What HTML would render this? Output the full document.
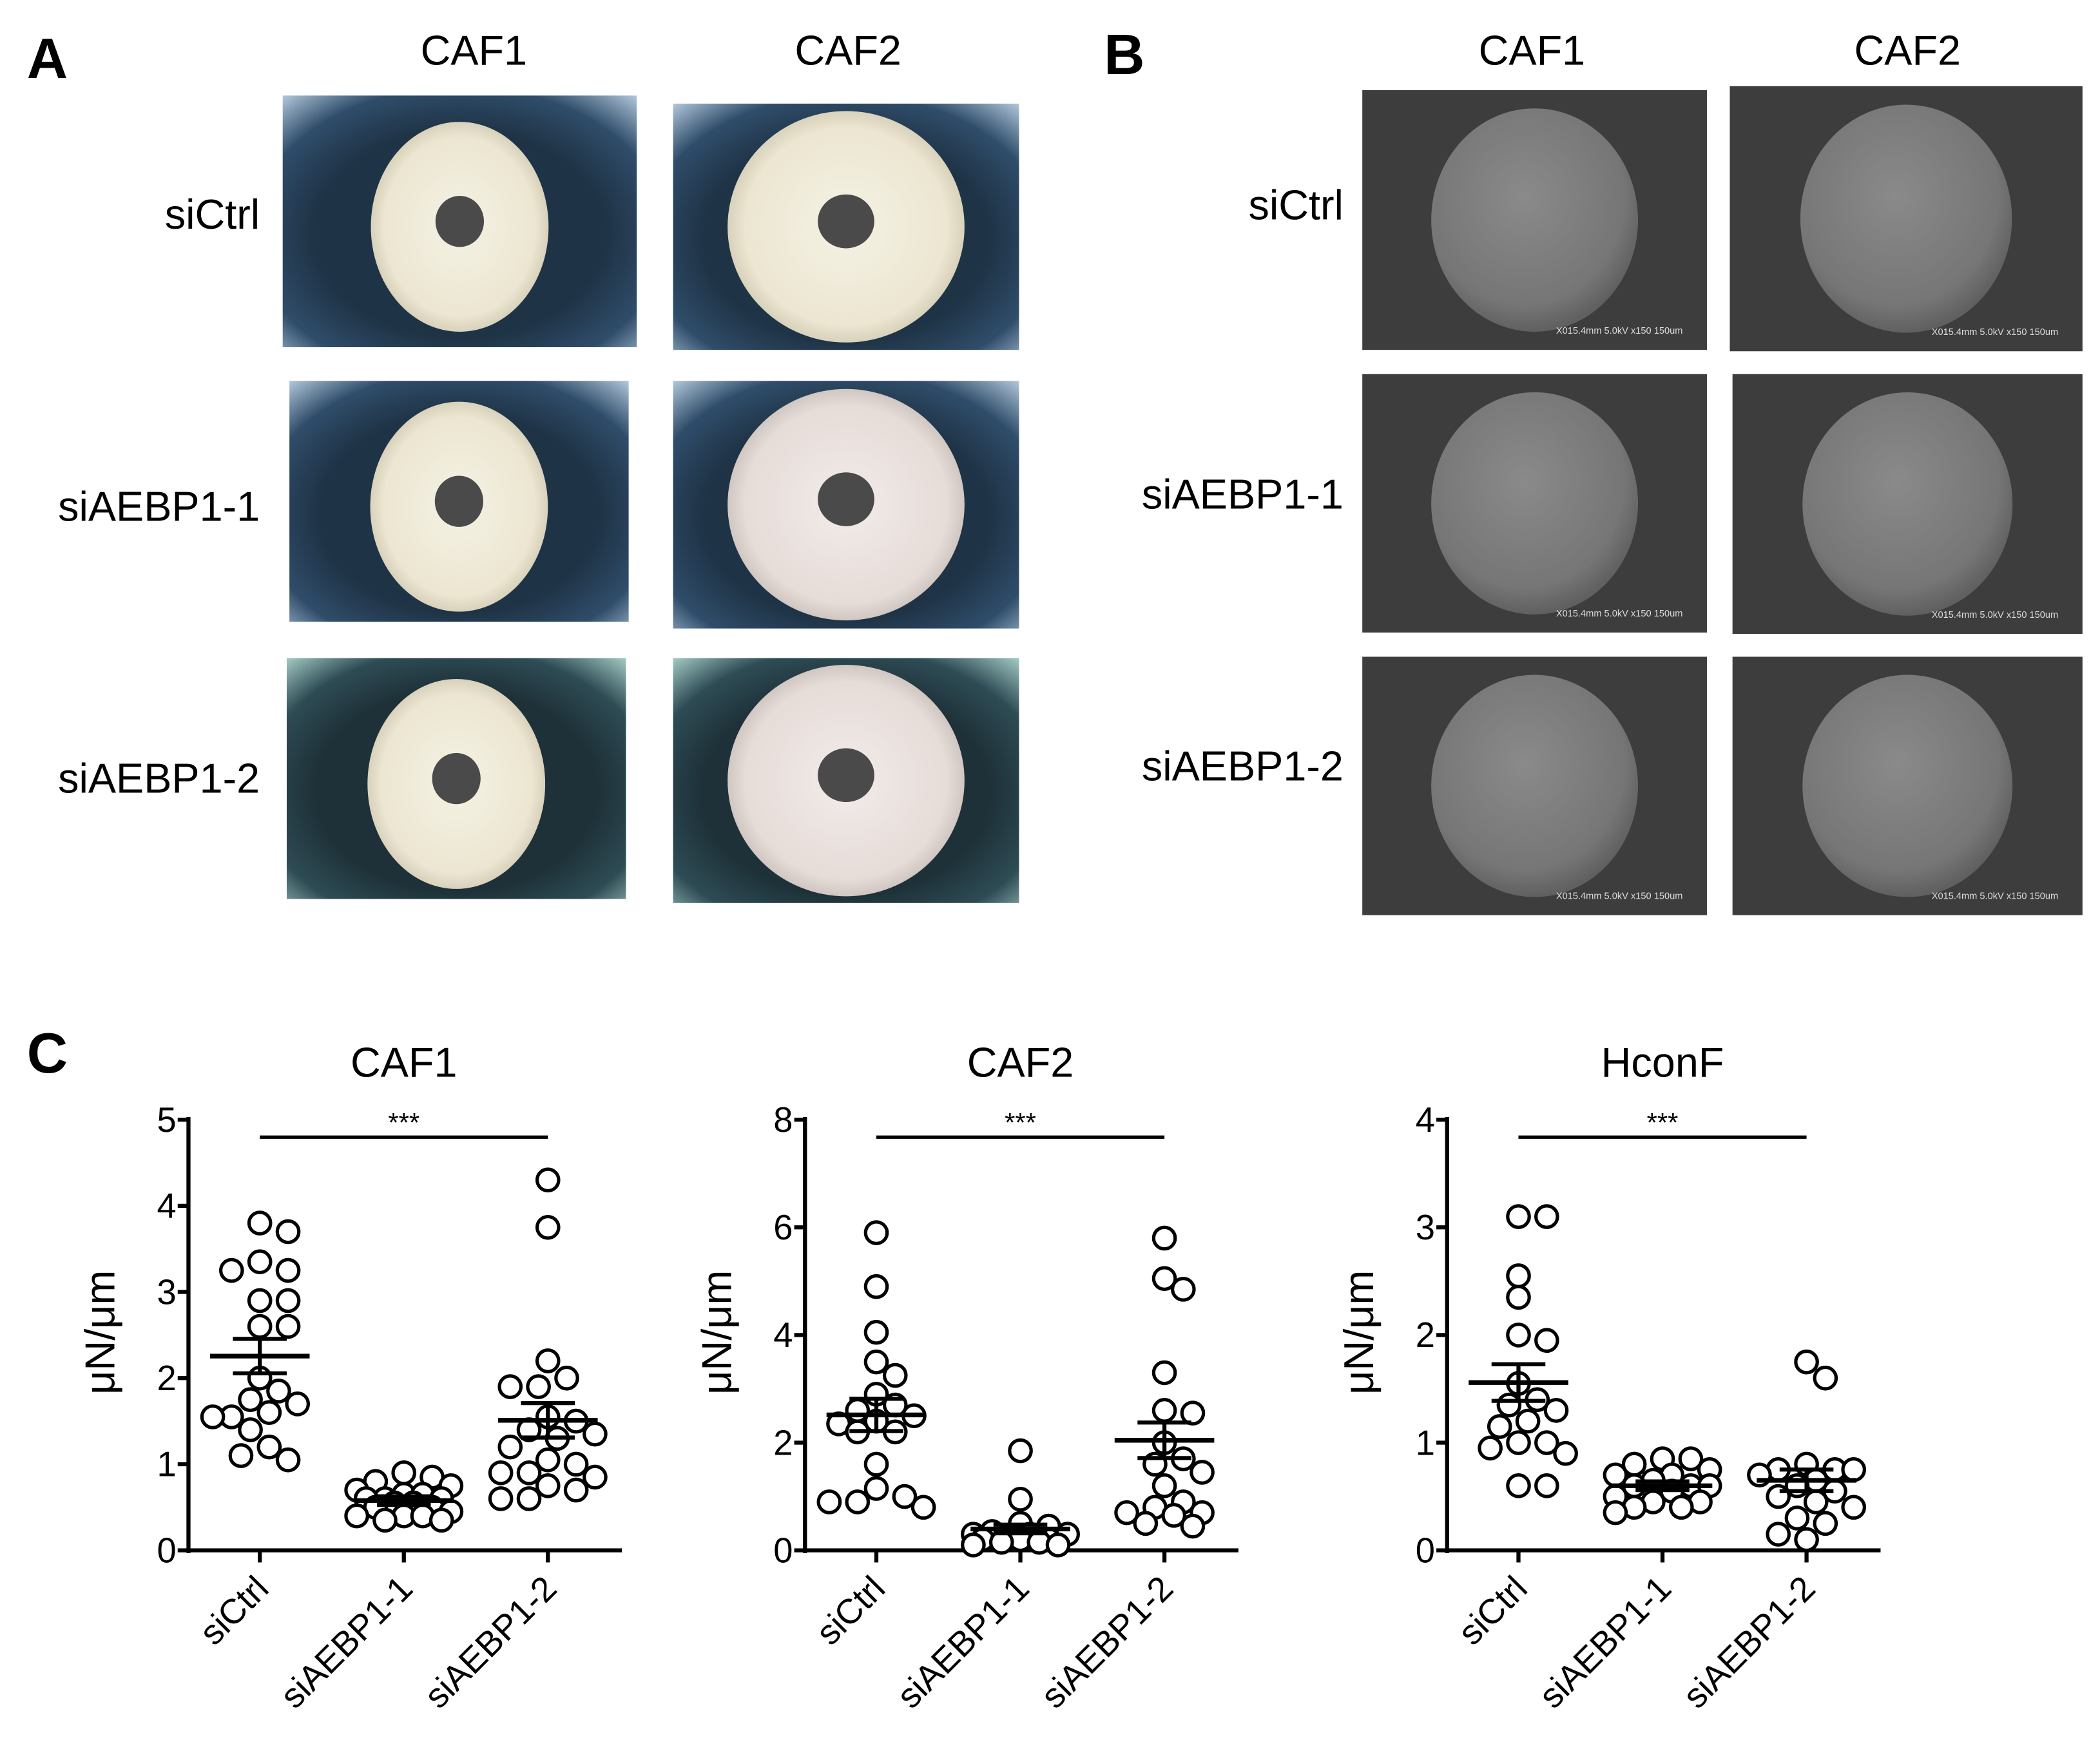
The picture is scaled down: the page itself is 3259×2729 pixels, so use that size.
<!DOCTYPE html>
<html><head><meta charset="utf-8"><style>
html,body{margin:0;padding:0;background:#fff}
svg{display:block}
text{font-family:"Liberation Sans",Arial,sans-serif}
</style></head><body>
<svg id="fig" width="3259" height="2729" viewBox="0 0 1560 1306.3" xmlns="http://www.w3.org/2000/svg">
<defs>
<radialGradient id="wellA" cx="50%" cy="55%" r="75%">
<stop offset="0.55" stop-color="#1f3346"/><stop offset="0.78" stop-color="#2f4d6a"/><stop offset="1" stop-color="#b8cde0"/></radialGradient>
<radialGradient id="wellG" cx="50%" cy="55%" r="75%">
<stop offset="0.55" stop-color="#1e3038"/><stop offset="0.78" stop-color="#2e4c55"/><stop offset="1" stop-color="#a8d0c8"/></radialGradient>
<radialGradient id="light" cx="50%" cy="50%" r="50%">
<stop offset="0" stop-color="#f5f2e4"/><stop offset="0.85" stop-color="#ece6d2"/><stop offset="1" stop-color="#d8d2bc"/></radialGradient>
<radialGradient id="lightP" cx="50%" cy="50%" r="50%">
<stop offset="0" stop-color="#f2ecea"/><stop offset="0.85" stop-color="#e6dcd8"/><stop offset="1" stop-color="#d0c6c2"/></radialGradient>
<radialGradient id="sem" cx="45%" cy="40%" r="60%">
<stop offset="0" stop-color="#8a8a8a"/><stop offset="0.8" stop-color="#767676"/><stop offset="1" stop-color="#606060"/></radialGradient>
</defs>
<g id="panelA">
<text x="20" y="58" font-size="42" font-weight="bold">A</text>
<text x="352" y="48" font-size="31" text-anchor="middle">CAF1</text>
<text x="630" y="48" font-size="31" text-anchor="middle">CAF2</text>
<text x="193" y="170" font-size="31" text-anchor="end">siCtrl</text>
<text x="193" y="387" font-size="31" text-anchor="end">siAEBP1-1</text>
<text x="193" y="589" font-size="31" text-anchor="end">siAEBP1-2</text>
</g>
<g id="panelB">
<text x="820" y="55" font-size="42" font-weight="bold">B</text>
<text x="1138" y="48" font-size="31" text-anchor="middle">CAF1</text>
<text x="1417" y="48" font-size="31" text-anchor="middle">CAF2</text>
<text x="998" y="163" font-size="31" text-anchor="end">siCtrl</text>
<text x="998" y="378" font-size="31" text-anchor="end">siAEBP1-1</text>
<text x="998" y="580" font-size="31" text-anchor="end">siAEBP1-2</text>
</g>
<g id="panelC">
<text x="20" y="797" font-size="42" font-weight="bold">C</text>
</g>
</svg>
<script>
const NS="http://www.w3.org/2000/svg";
const svg=document.getElementById('fig');
function mk(tag,attrs,parent){const e=document.createElementNS(NS,tag);for(const k in attrs)e.setAttribute(k,attrs[k]);(parent||svg).appendChild(e);return e;}

// ---- Panel A micrographs ----
const gA=document.getElementById('panelA');
const aImgs=[[210,71,263,187,'wellA','light',1],[500,77,257,183,'wellA','light',1],
[215,283,252,179,'wellA','light',1],[500,283,257,184,'wellA','lightP',1],
[213,489,252,179,'wellG','light',1],[500,489,257,182,'wellG','lightP',1]];
const aNames=['a-sictrl-caf1','a-sictrl-caf2','a-siaebp1-1-caf1','a-siaebp1-1-caf2','a-siaebp1-2-caf1','a-siaebp1-2-caf2'];
aImgs.forEach((d,i)=>{
 const g=mk('g',{},gA);
 
 
 mk('rect',{x:d[0],y:d[1],width:d[2],height:d[3],fill:'url(#'+d[4]+')'},g);
 const cx=d[0]+d[2]/2, cy=d[1]+d[3]/2+(i%2?0:4);
 const rx=i%2?88:66, ry=i%2?86:78;
 mk('ellipse',{cx:cx,cy:cy,rx:rx,ry:ry,fill:'url(#'+d[5]+')'},g);
 mk('ellipse',{cx:cx,cy:cy-4,rx:i%2?21:18,ry:i%2?20:19,fill:'#4a4a4a'},g);
});

// ---- Panel B SEM ----
const gB=document.getElementById('panelB');
const bImgs=[[1012,67,256,193],[1285,64,262,197],[1012,278,256,192],[1287,278,260,193],[1012,488,256,192],[1287,488,260,192]];
bImgs.forEach((d,i)=>{
 const g=mk('g',{},gB);
 
 
 mk('rect',{x:d[0],y:d[1],width:d[2],height:d[3],fill:'#3d3d3d'},g);
 const cx=d[0]+d[2]/2, cy=d[1]+d[3]/2;
 mk('ellipse',{cx:cx,cy:cy,rx:d[2]*0.3,ry:d[3]*0.43,fill:'url(#sem)'},g);
 const t=mk('text',{x:d[0]+d[2]-18,y:d[1]+d[3]-12,'font-size':7,fill:'#ddd','text-anchor':'end'},g);
 t.textContent='X015.4mm 5.0kV x150 150um';
});

// ---- Panel C charts ----
const groups=['siCtrl','siAEBP1-1','siAEBP1-2'];
const caf1Ctrl=[3.8,3.7,3.35,3.25,3.25,2.9,2.9,2.6,2.6,2.0,1.85,1.75,1.7,1.6,1.55,1.55,1.4,1.2,1.05,1.1];
const caf1Si1=[0.9,0.85,0.8,0.75,0.7,0.65,0.65,0.6,0.6,0.6,0.55,0.55,0.5,0.5,0.45,0.4,0.4,0.35,0.35,0.4];
const caf1Si2=[4.3,3.75,2.2,2.0,1.9,1.9,1.55,1.5,1.4,1.35,1.3,1.2,1.05,1.0,0.9,0.85,0.75,0.7,0.6,0.6,0.9];
const caf2Ctrl=[5.9,4.9,4.05,3.5,3.25,2.9,2.7,2.6,2.5,2.4,2.35,2.2,2.2,1.6,1.15,1.0,0.9,0.9,0.8];
const caf2Si1=[1.85,0.95,0.5,0.45,0.35,0.3,0.3,0.25,0.2,0.2,0.15,0.15,0.1,0.1,0.2,0.3];
const caf2Si2=[5.8,5.05,4.85,3.3,2.6,2.55,2.0,1.7,1.6,1.45,1.2,0.9,0.8,0.7,0.65,0.5,0.45,0.7];
const hconCtrl=[3.1,3.1,2.55,2.35,2.0,1.95,1.55,1.4,1.35,1.3,1.15,1.2,1.0,0.95,0.9,1.0,0.6,0.6];
const hconSi1=[0.85,0.85,0.8,0.75,0.7,0.7,0.65,0.6,0.6,0.55,0.5,0.45,0.45,0.4,0.4,0.35,0.6];
const hconSi2=[1.75,1.6,0.8,0.75,0.75,0.75,0.7,0.65,0.6,0.55,0.5,0.45,0.4,0.3,0.25,0.15,0.1];
const caf1Ticks=[0,1,2,3,4,5], caf2Ticks=[0,2,4,6,8], hconTicks=[0,1,2,3,4];
const caf1Sem=[0.2,0.05,0.2], caf2Sem=[0.3,0.08,0.33], hconSem=[0.17,0.04,0.1];

const charts=[
 {name:'caf1',title:'CAF1',ax:140,ymax:5,ticks:caf1Ticks,series:[caf1Ctrl,caf1Si1,caf1Si2],sem:caf1Sem},
 {name:'caf2',title:'CAF2',ax:598,ymax:8,ticks:caf2Ticks,series:[caf2Ctrl,caf2Si1,caf2Si2],sem:caf2Sem},
 {name:'hconf',title:'HconF',ax:1075,ymax:4,ticks:hconTicks,series:[hconCtrl,hconSi1,hconSi2],sem:hconSem}];
const gC=document.getElementById('panelC');
charts.forEach(c=>{
 const g=mk('g',{},gC);
 
 
 const y0=1152,y1=832;
 const Y=v=>y0-(v/c.ymax)*(y0-y1);
 const X=i=>c.ax+53+i*107;
 const xEnd=c.ax+322;
 const t=mk('text',{x:X(1),y:800,'font-size':31,'text-anchor':'middle'},g);t.textContent=c.title;
 
 const yl=mk('text',{x:0,y:0,'font-size':31,'text-anchor':'middle',transform:`translate(${c.ax-55},990) rotate(-90)`},g);yl.textContent='μN/μm';
 
 const ya=mk('line',{x1:c.ax,y1:y1-2,x2:c.ax,y2:y0+2,stroke:'#000','stroke-width':3},g);
 
 const xa=mk('line',{x1:c.ax-2,y1:y0,x2:xEnd,y2:y0,stroke:'#000','stroke-width':3},g);
 
 c.ticks.forEach(v=>{
  mk('line',{x1:c.ax-8,y1:Y(v),x2:c.ax,y2:Y(v),stroke:'#000','stroke-width':3},g);
  const tl=mk('text',{x:c.ax-9,y:Y(v)+9,'font-size':26,'text-anchor':'end'},g);tl.textContent=v;
  
 });
 groups.forEach((gname,i)=>{
  mk('line',{x1:X(i),y1:y0,x2:X(i),y2:y0+9,stroke:'#000','stroke-width':3},g);
  const xl=mk('text',{x:0,y:0,'font-size':26,'text-anchor':'end',transform:`translate(${X(i)+8},${y0+30}) rotate(-45)`},g);xl.textContent=gname;
  
  const vals=c.series[i];
  // compact beeswarm placement, capped width
  const placed=[];const r=8,d=2*r;
  const cands=[0];for(let k=1;k<=5;k++){cands.push(k*7,-k*7);}
  [...vals].sort((a,b)=>b-a).forEach(v=>{
   const py=Y(v);let best=0,bestD=-1;
   for(const cand of cands){
    const md=placed.reduce((m,p)=>Math.min(m,Math.hypot(p[0]-cand,p[1]-py)),1e9);
    if(md>=d){best=cand;bestD=1e9;break;}
    if(md>bestD){bestD=md;best=cand;}
   }
   placed.push([best,py]);
   const dot=mk('circle',{cx:X(i)+best,cy:py,r:r,fill:'#fff',stroke:'#000','stroke-width':2.5},g);
   
  });
  const mean=vals.reduce((a,b)=>a+b,0)/vals.length;
  const ml=mk('line',{x1:X(i)-37,y1:Y(mean),x2:X(i)+37,y2:Y(mean),stroke:'#000','stroke-width':3.5},g);
  
  const s=c.sem[i];
  mk('line',{x1:X(i),y1:Y(mean+s),x2:X(i),y2:Y(mean-s),stroke:'#000','stroke-width':3},g);
  mk('line',{x1:X(i)-20,y1:Y(mean+s),x2:X(i)+20,y2:Y(mean+s),stroke:'#000','stroke-width':3},g);
  mk('line',{x1:X(i)-20,y1:Y(mean-s),x2:X(i)+20,y2:Y(mean-s),stroke:'#000','stroke-width':3},g);
 });
 const sl=mk('line',{x1:X(0),y1:845,x2:X(2),y2:845,stroke:'#000','stroke-width':2.5},g);
 
 const st=mk('text',{x:X(1),y:841,'font-size':20,'text-anchor':'middle'},g);st.textContent='***';
 
});
</script>
</body></html>
